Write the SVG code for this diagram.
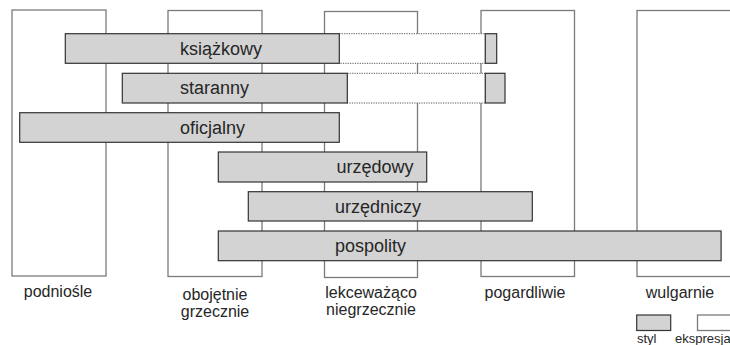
<svg xmlns="http://www.w3.org/2000/svg" width="730" height="345" viewBox="0 0 730 345">
  <style>
    .col { fill: #ffffff; stroke: #7a7a7a; stroke-width: 1.3; }
    .bar { fill: #d3d3d3; stroke: #333333; stroke-width: 1.2; }
    .expr { fill: #ffffff; stroke: #555555; stroke-width: 1; stroke-dasharray: 1.2 1.2; }
    .lbl { font-family: "Liberation Sans", Arial, sans-serif; font-size: 18px; fill: #262626; }
    .cap { font-family: "Liberation Sans", Arial, sans-serif; font-size: 16px; fill: #262626; text-anchor: middle; }
    .leg { font-family: "Liberation Sans", Arial, sans-serif; font-size: 13px; fill: #262626; }
  </style>
  <rect width="730" height="345" fill="#ffffff"/>

  <!-- expression columns -->
  <g id="col-podniosle">
    <rect class="col" x="12" y="10" width="94" height="266"/>
    <text class="cap" x="58" y="297">podniośle</text>
  </g>
  <g id="col-obojetnie">
    <rect class="col" x="168" y="10.5" width="94" height="266"/>
    <text class="cap" x="215" y="300">obojętnie</text>
    <text class="cap" x="215" y="317">grzecznie</text>
  </g>
  <g id="col-lekcewazaco">
    <rect class="col" x="324.5" y="11.5" width="93" height="266"/>
    <text class="cap" x="371" y="298">lekceważąco</text>
    <text class="cap" x="371" y="315">niegrzecznie</text>
  </g>
  <g id="col-pogardliwie">
    <rect class="col" x="481" y="10.5" width="93.5" height="266"/>
    <text class="cap" x="525" y="298">pogardliwie</text>
  </g>
  <g id="col-wulgarnie">
    <rect class="col" x="637" y="10.5" width="110" height="266"/>
    <text class="cap" x="680" y="298">wulgarnie</text>
  </g>

  <!-- style bars -->
  <g id="bar-ksiazkowy">
    <rect class="expr" x="339.3" y="33.7" width="146" height="29.6"/>
    <rect class="bar" x="65.3" y="33.7" width="274" height="29.6"/>
    <rect class="bar" x="485.3" y="33.7" width="11.4" height="29.6"/>
    <text class="lbl" x="180" y="54.8">książkowy</text>
  </g>
  <g id="bar-staranny">
    <rect class="expr" x="347.3" y="73.3" width="138" height="29.7"/>
    <rect class="bar" x="122.3" y="73.3" width="225" height="29.7"/>
    <rect class="bar" x="485.3" y="73.3" width="19.7" height="29.7"/>
    <text class="lbl" x="180" y="94.3">staranny</text>
  </g>
  <g id="bar-oficjalny">
    <rect class="bar" x="19.7" y="112.7" width="319.6" height="29.6"/>
    <text class="lbl" x="180" y="133.6">oficjalny</text>
  </g>
  <g id="bar-urzedowy">
    <rect class="bar" x="218.3" y="152" width="208.4" height="30"/>
    <text class="lbl" x="336.5" y="173">urzędowy</text>
  </g>
  <g id="bar-urzedniczy">
    <rect class="bar" x="248.3" y="191.7" width="284" height="29.3"/>
    <text class="lbl" x="335" y="212.5">urzędniczy</text>
  </g>
  <g id="bar-pospolity">
    <rect class="bar" x="218.3" y="231" width="502.8" height="29.7"/>
    <text class="lbl" x="335" y="252">pospolity</text>
  </g>

  <!-- legend -->
  <g id="legend">
    <rect class="bar" x="636.7" y="315" width="34" height="15.5"/>
    <text class="leg" x="637" y="343">styl</text>
    <rect class="col" x="697.5" y="315" width="40" height="15.5" stroke="#333333"/>
    <text class="leg" x="675" y="343">ekspresja</text>
  </g>
</svg>
